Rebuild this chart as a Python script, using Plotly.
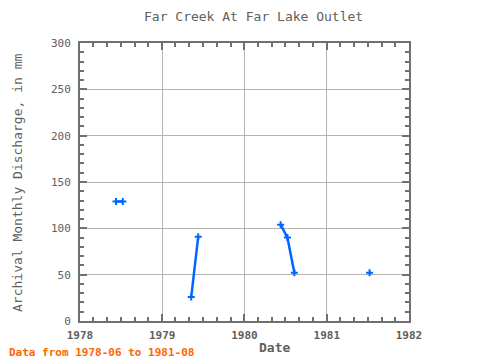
import plotly.graph_objects as go

dates = ["1978-06-10", "1978-07-10", None,
         "1979-05-10", "1979-06-10", None,
         "1980-06-10", "1980-07-10", "1980-08-10", None,
         "1981-07-10"]
values = [129, 129, None,
          26, 91, None,
          104, 90, 52, None,
          52]

title_text = "Far Creek At Far Lake Outlet"
x_title = "Date"
y_title = "Archival Monthly Discharge, in mm"
note = "Data from 1978-06 to 1981-08"
x_ticks = ["1978-01-01", "1979-01-01", "1980-01-01", "1981-01-01", "1982-01-01"]
x_labels = ["1978", "1979", "1980", "1981", "1982"]
y_vals = [0, 50, 100, 150, 200, 250, 300]

FONT = "DejaVu Sans Mono"
AX = "#707070"
TXT = "#606060"

# the page body has an 8px margin, so the figure is 8px smaller than the window
W, H = 472, 352
L, R, T, B = 72, 71, 35, 39
PW, PH = W - L - R, H - T - B

fig = go.Figure()
fig.add_trace(go.Scatter(
    x=dates, y=values, mode="lines+markers",
    line=dict(color="#0066ff", width=2.5),
    marker=dict(symbol="cross-thin", size=5, color="#0066ff",
                line=dict(color="#0066ff", width=2)),
    connectgaps=False, showlegend=False,
))

def px_x(x):
    return (x - L) / PW

def px_y(y):
    return (H - B - y) / PH

fig.update_layout(
    width=W, height=H,
    margin=dict(l=L, r=R, t=T, b=B),
    paper_bgcolor="white", plot_bgcolor="white",
    font=dict(family=FONT, color=TXT, size=11),
    annotations=[
        dict(text=title_text, xref="paper", yref="paper", x=px_x(245.5), y=px_y(9),
             xanchor="center", yanchor="middle", showarrow=False,
             font=dict(family=FONT, size=13, color=TXT)),
        dict(text=y_title, xref="paper", yref="paper", x=px_x(9), y=px_y(175),
             xanchor="center", yanchor="middle", showarrow=False, textangle=-90,
             font=dict(family=FONT, size=13, color=TXT)),
        dict(text="<b>" + x_title + "</b>", xref="paper", yref="paper", x=px_x(266), y=px_y(339),
             xanchor="center", yanchor="middle", showarrow=False,
             font=dict(family=FONT, size=13, color=TXT)),
        dict(text="<b>" + note + "</b>", xref="paper", yref="paper", x=px_x(-1), y=px_y(344),
             xanchor="left", yanchor="middle", showarrow=False,
             font=dict(family=FONT, size=11, color="#ff6600")),
    ],
)

fig.update_xaxes(
    type="date", range=["1978-01-01", "1982-01-01"],
    tickvals=x_ticks, ticktext=["<b>%s</b>" % s for s in x_labels], automargin=False,
    tickfont=dict(family=FONT, size=11, color=TXT), ticklabelstandoff=3,
    showline=True, linecolor=AX, linewidth=2, mirror="allticks",
    ticks="inside", ticklen=7, tickwidth=2, tickcolor=AX,
    showgrid=True, gridcolor="#b4b4b4", gridwidth=1,
    minor=dict(dtick="M2", tick0="1978-01-01", ticks="inside", ticklen=4,
               tickwidth=2, tickcolor=AX, showgrid=False),
    zeroline=False,
)
fig.update_yaxes(
    range=[0, 300], tickvals=y_vals, ticktext=["%d" % v for v in y_vals], automargin=False,
    tickfont=dict(family=FONT, size=11, color=TXT), ticklabelstandoff=5,
    showline=True, linecolor=AX, linewidth=2, mirror="allticks",
    ticks="inside", ticklen=7, tickwidth=2, tickcolor=AX,
    showgrid=True, gridcolor="#b4b4b4", gridwidth=1,
    minor=dict(dtick=10, ticks="inside", ticklen=4, tickwidth=2, tickcolor=AX,
               showgrid=False),
    zeroline=False,
)

fig.write_html("out.html")
